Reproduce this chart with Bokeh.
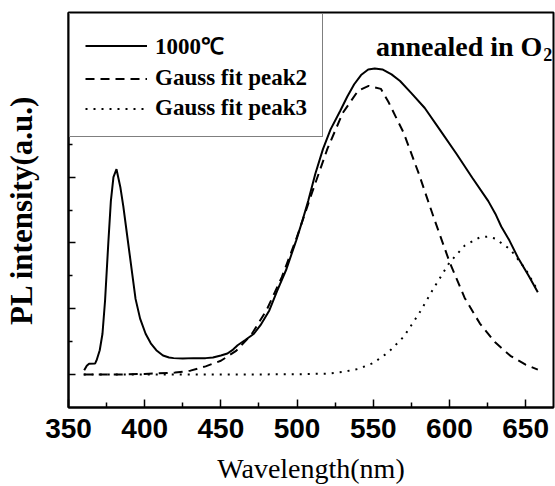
from bokeh.plotting import figure
from bokeh.models import FixedTicker, CustomJSTickFormatter, Label, Range1d
from bokeh.embed import file_html
from bokeh.resources import INLINE

# ---- data ----
wl_solid = [360.3, 362, 363.5, 367.5, 368.4, 370.5, 372.3, 374, 376.2, 377.8, 379.5, 381.5,
            384, 386, 388, 390, 392, 394, 397, 400.6, 404, 407.6, 412, 416, 419, 425, 432,
            440, 444.8, 450, 454.3, 458, 461, 466, 471.7, 476, 481.8, 487, 493, 499.4, 503,
            507.3, 512, 517, 522, 528.2, 533, 537.5, 542, 546.7, 551, 556, 562, 567.6, 575,
            583.8, 594, 604.7, 615, 625.5, 630.2, 634, 639.4, 645, 652, 658]
pl_solid = [0.13, 0.27, 0.33, 0.34, 0.43, 0.74, 1.24, 2.25, 4.06, 5.27, 6.0, 6.24,
            5.7, 5.1, 4.4, 3.7, 3.0, 2.3, 1.7, 1.24, 0.95, 0.74, 0.58, 0.52, 0.5, 0.49, 0.5,
            0.5, 0.52, 0.58, 0.64, 0.76, 0.89, 1.05, 1.24, 1.5, 1.95, 2.55, 3.2, 4.07, 4.6,
            5.27, 6.1, 6.85, 7.45, 8.0, 8.45, 8.82, 9.1, 9.27, 9.3, 9.27, 9.12, 8.92, 8.55,
            8.1, 7.42, 6.7, 5.98, 5.27, 4.88, 4.5, 4.07, 3.55, 3.0, 2.5]

wl_peak2 = [360, 380, 400, 420, 430, 440, 450, 460, 470, 480, 490, 500, 510, 520, 530, 540,
            547, 555, 560, 570, 580, 590, 600, 610, 620, 630, 640, 650, 658]
pl_peak2 = [0.0, 0.0, 0.02, 0.06, 0.12, 0.25, 0.42, 0.72, 1.21, 1.96, 2.96, 4.19, 5.55, 6.87,
            7.95, 8.62, 8.77, 8.68, 8.28, 7.34, 6.09, 4.73, 3.43, 2.33, 1.55, 0.98, 0.57, 0.3, 0.15]

wl_peak3 = [360, 400, 450, 500, 520, 530, 540, 550, 560, 570, 575, 580, 590, 600, 610, 620,
            625, 630, 640, 650, 658]
pl_peak3 = [0.0, 0.0, 0.0, 0.01, 0.03, 0.08, 0.17, 0.35, 0.68, 1.15, 1.5, 1.85, 2.65, 3.4,
            3.92, 4.17, 4.19, 4.13, 3.8, 3.2, 2.55]

x_major = [350, 400, 450, 500, 550, 600, 650]
x_minor = [375, 425, 475, 525, 575, 625]
y_major = [0, 2, 4, 6, 8, 10]
y_minor = [1, 3, 5, 7, 9]

SERIF = "Liberation Serif"
SANS = "Liberation Sans"

p = figure(width=555, height=486, output_backend="svg", toolbar_location=None,
           x_range=Range1d(350, 668.3), y_range=Range1d(-1, 11))
p.min_border_left = 68
p.min_border_right = 2
p.min_border_top = 12
p.min_border_bottom = 78
p.background_fill_color = "white"
p.border_fill_color = "white"
p.grid.visible = False
p.outline_line_color = "black"
p.outline_line_width = 2

p.line(wl_solid, pl_solid, line_color="black", line_width=2, legend_label="1000\u2103")
p.line(wl_peak2, pl_peak2, line_color="black", line_width=2, line_dash="9 6",
       legend_label="Gauss fit peak2")
p.line(wl_peak3, pl_peak3, line_color="black", line_width=2, line_dash="2 6",
       legend_label="Gauss fit peak3")

# x axis
xa = p.xaxis[0]
xa.ticker = FixedTicker(ticks=x_major, minor_ticks=x_minor)
xa.major_label_text_font = SANS
xa.major_label_text_font_style = "bold"
xa.major_label_text_font_size = "28px"
xa.major_label_text_color = "black"
xa.major_label_text_line_height = 0.7
xa.major_label_standoff = 11
xa.axis_label = "Wavelength(nm)"
xa.axis_label_text_font = SERIF
xa.axis_label_text_font_style = "normal"
xa.axis_label_text_font_size = "28px"
xa.axis_label_text_color = "black"
xa.axis_label_text_line_height = 0.4
xa.axis_label_standoff = 12
xa.axis_line_width = 2
xa.major_tick_in = 8
xa.major_tick_out = 0
xa.minor_tick_in = 5
xa.minor_tick_out = 0
xa.major_tick_line_width = 1.5
xa.minor_tick_line_width = 1.5

# y axis
ya = p.yaxis[0]
ya.ticker = FixedTicker(ticks=y_major, minor_ticks=y_minor)
ya.formatter = CustomJSTickFormatter(code="return ''")
ya.axis_label = "PL intensity(a.u.)"
ya.axis_label_text_font = SERIF
ya.axis_label_text_font_style = "bold"
ya.axis_label_text_font_size = "31px"
ya.axis_label_text_color = "black"
ya.axis_label_standoff = 30
ya.major_label_standoff = 0
ya.axis_line_width = 2
ya.major_tick_in = 7
ya.major_tick_out = 0
ya.minor_tick_in = 4
ya.minor_tick_out = 0
ya.major_tick_line_width = 1.5
ya.minor_tick_line_width = 1.5

# legend
lg = p.legend[0]
lg.location = "top_left"
lg.margin = 1
lg.padding = 15
lg.spacing = 4
lg.glyph_width = 62
lg.glyph_height = 25
lg.label_standoff = 8
lg.label_text_font = SERIF
lg.label_text_font_style = "bold"
lg.label_text_font_size = "23px"
lg.label_text_color = "black"
lg.border_line_color = "black"
lg.border_line_width = 1.5
lg.background_fill_alpha = 1

# annotation
p.add_layout(Label(x=661.0, y=9.96, text="annealed in O", text_align="right",
                   text_baseline="alphabetic", text_font=SERIF, text_font_style="bold",
                   text_font_size="28px", text_color="black"))
p.add_layout(Label(x=661.5, y=9.72, text="2", text_align="left",
                   text_baseline="alphabetic", text_font=SERIF, text_font_style="bold",
                   text_font_size="18px", text_color="black"))

open("out.html", "w").write(file_html(p, INLINE))
